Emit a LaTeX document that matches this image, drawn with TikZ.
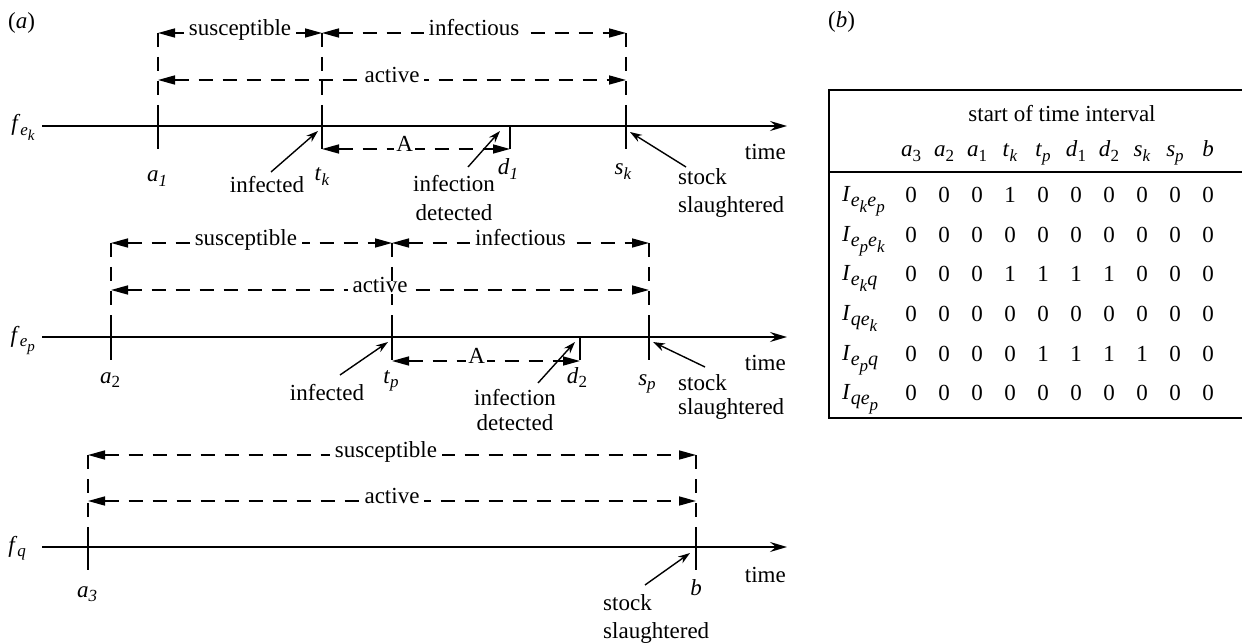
\documentclass[tikz,border=0pt]{standalone}
\usepackage{fontspec}
\setmainfont{Liberation Serif}
\usetikzlibrary{arrows.meta}
\newcommand\fsz{\fontsize{23}{28}\selectfont}
\newcommand\sbA[1]{\raisebox{-4.5pt}{\fontsize{17}{17}\selectfont #1}}
\newcommand\sbB[1]{\raisebox{-5pt}{\fontsize{15}{15}\selectfont #1}}
\newcommand\sbT[1]{\raisebox{-5pt}{\fontsize{20}{20}\selectfont #1}}
\newcommand\sbU[1]{\raisebox{-6pt}{\fontsize{17}{17}\selectfont #1}}
\newcommand\vi[2]{\textit{#1}\sbA{\textit{#2}}}
\newcommand\vu[2]{\textit{#1}\sbA{#2}}
\newcommand\ee[1]{\textit{e}\sbB{\textit{#1}}}
\newcommand\te[1]{\textit{e}\sbU{\textit{#1}}}
\tikzset{
  axisline/.style={line width=1.8pt, -{Stealth[length=17pt,width=10pt,inset=6pt]}},
  tickline/.style={line width=1.8pt},
  vdash/.style={line width=1.6pt, dash pattern=on 14pt off 10pt},
  spanline/.style={line width=1.6pt, dash pattern=on 14pt off 10pt,
     {Triangle[length=17pt,width=9pt]}-{Triangle[length=17pt,width=9pt]}},
  spanlab/.style={fill=white, inner xsep=5pt, inner ysep=0pt, text height=0.68em, text depth=0.22em},
  ptr/.style={line width=1.4pt, -{Stealth[length=12pt,width=8pt]}},
  lab/.style={inner sep=0pt, anchor=base},
  every node/.style={font=\fsz},
  tbl/.style={line width=1.8pt}
}
\begin{document}
\begin{tikzpicture}[x=1pt,y=-1pt]
\useasboundingbox (0,0) rectangle (1242,644);

\node[lab, anchor=base west] (la) at (8,29) {(\textit{a})};
\node[lab, anchor=base west] (lb) at (828,28) {(\textit{b})};

% ---------------- timeline 1 ----------------
\coordinate (o1) at (42,126);  \coordinate (e1) at (787,126);
\coordinate (a1) at (158,126); \coordinate (tk) at (322,126);
\coordinate (d1) at (510,126); \coordinate (sk) at (626,126);
\coordinate (a1t) at (158,33); \coordinate (tkt) at (322,33); \coordinate (skt) at (626,33);
\coordinate (a1m) at (158,80); \coordinate (skm) at (626,80);
\coordinate (tkA) at (322,149); \coordinate (d1A) at (510,149);

\draw[axisline] (o1) -- (e1);
\foreach \c in {a1,tk,sk}{
  \draw[tickline] ([yshift=13pt]\c) -- ([yshift=-23pt]\c);
}
\draw[tickline] (d1) -- ([yshift=-23pt]d1);
\draw[vdash] (a1t) -- ([yshift=13pt]a1);
\draw[vdash] (tkt) -- ([yshift=13pt]tk);
\draw[vdash] (skt) -- ([yshift=13pt]sk);
\draw[spanline] (a1t) -- node[spanlab] (s1) {susceptible} (tkt);
\draw[spanline] (tkt) -- node[spanlab] (i1) {infectious} (skt);
\draw[spanline] (a1m) -- node[spanlab] (ac1) {active} (skm);
\draw[spanline] (tkA) -- node[spanlab, pos=0.44, inner xsep=2pt] (A1) {A} (d1A);

\node[lab, anchor=base east] (f1) at (35,131) {\textit{f}\sbA{\ee{k}}};
\node[lab] (la1) at (157,182) {\vi{a}{1}};
\node[lab] (ltk) at (322,181) {\vi{t}{k}};
\node[lab] (inf1) at (267,193) {infected};
\node[lab] (ld1) at (508,175) {\vi{d}{1}};
\node[lab] (det1a) at (454,192) {infection};
\node[lab] (det1b) at (454,221) {detected};
\node[lab] (lsk) at (623,175) {\vi{s}{k}};
\node[lab, anchor=base west] (st1a) at (678,185) {stock};
\node[lab, anchor=base west] (st1b) at (678,213) {slaughtered};
\node[lab, anchor=base east] (tm1) at (786,160) {time};
\coordinate (p1s) at (271,172); \coordinate (p1e) at (318,131);
\coordinate (p2s) at (468,167); \coordinate (p2e) at (500,131);
\coordinate (p3s) at (686,167); \coordinate (p3e) at (630,132);
\draw[ptr] (p1s) -- (p1e);
\draw[ptr] (p2s) -- (p2e);
\draw[ptr] (p3s) -- (p3e);

% ---------------- timeline 2 ----------------
\coordinate (o2) at (42,337);  \coordinate (e2) at (787,337);
\coordinate (a2) at (111,337); \coordinate (tp) at (392,337);
\coordinate (d2) at (580,337); \coordinate (sp) at (649,337);
\coordinate (a2t) at (111,243); \coordinate (tpt) at (392,243); \coordinate (spt) at (649,243);
\coordinate (a2m) at (111,290); \coordinate (spm) at (649,290);
\coordinate (tpA) at (392,361); \coordinate (d2A) at (580,361);

\draw[axisline] (o2) -- (e2);
\foreach \c in {a2,tp,sp}{
  \draw[tickline] ([yshift=13pt]\c) -- ([yshift=-23pt]\c);
}
\draw[tickline] (d2) -- ([yshift=-23pt]d2);
\draw[vdash] (a2t) -- ([yshift=13pt]a2);
\draw[vdash] (tpt) -- ([yshift=13pt]tp);
\draw[vdash] (spt) -- ([yshift=13pt]sp);
\draw[spanline] (a2t) -- node[spanlab, pos=0.48] (s2) {susceptible} (tpt);
\draw[spanline] (tpt) -- node[spanlab] (i2) {infectious} (spt);
\draw[spanline] (a2m) -- node[spanlab] (ac2) {active} (spm);
\draw[spanline] (tpA) -- node[spanlab, pos=0.45, inner xsep=2pt] (A2) {A} (d2A);

\node[lab, anchor=base east] (f2) at (35,342) {\textit{f}\sbA{\ee{p}}};
\node[lab] (la2) at (110,383) {\vu{a}{2}};
\node[lab] (ltp) at (391,383) {\vi{t}{p}};
\node[lab] (inf2) at (327,400) {infected};
\node[lab] (ld2) at (577,383) {\vu{d}{2}};
\node[lab] (det2a) at (515,405) {infection};
\node[lab] (det2b) at (515,430) {detected};
\node[lab] (lsp) at (647,385) {\vi{s}{p}};
\node[lab, anchor=base west] (st2a) at (678,390) {stock};
\node[lab, anchor=base west] (st2b) at (678,414) {slaughtered};
\node[lab, anchor=base east] (tm2) at (786,370) {time};
\coordinate (q1s) at (340,375); \coordinate (q1e) at (388,342);
\coordinate (q2s) at (538,383); \coordinate (q2e) at (575,342);
\coordinate (q3s) at (705,367); \coordinate (q3e) at (653,342);
\draw[ptr] (q1s) -- (q1e);
\draw[ptr] (q2s) -- (q2e);
\draw[ptr] (q3s) -- (q3e);

% ---------------- timeline 3 ----------------
\coordinate (o3) at (42,547);  \coordinate (e3) at (787,547);
\coordinate (a3) at (88,547); \coordinate (bb) at (696,547);
\coordinate (a3t) at (88,455); \coordinate (bbt) at (696,455);
\coordinate (a3m) at (88,501); \coordinate (bbm) at (696,501);

\draw[axisline] (o3) -- (e3);
\foreach \c in {a3,bb}{
  \draw[tickline] ([yshift=12pt]\c) -- ([yshift=-23pt]\c);
}
\draw[vdash] (a3t) -- ([yshift=12pt]a3);
\draw[vdash] (bbt) -- ([yshift=12pt]bb);
\draw[spanline] (a3t) -- node[spanlab, pos=0.49] (s3) {susceptible} (bbt);
\draw[spanline] (a3m) -- node[spanlab] (ac3) {active} (bbm);

\node[lab, anchor=base east] (f3) at (26,552) {\vi{f}{q}};
\node[lab] (la3) at (87,597) {\vi{a}{3}};
\node[lab] (lb3) at (696,595) {\textit{b}};
\node[lab, anchor=base east] (tm3) at (786,582) {time};
\node[lab, anchor=base west] (st3a) at (603,610) {stock};
\node[lab, anchor=base west] (st3b) at (603,638) {slaughtered};
\coordinate (r1s) at (645,585); \coordinate (r1e) at (690,553);
\draw[ptr] (r1s) -- (r1e);

% ---------------- table (b) ----------------
\coordinate (tTR) at (1242,90); \coordinate (tBL) at (829,418);
\coordinate (tBR) at (1242,418);
\coordinate (mL) at (829,172); \coordinate (mR) at (1242,172);
\draw[tbl] (tTR) -| (tBL) -- (tBR);
\draw[tbl] (mL) -- (mR);

\node[lab] (hdr) at (1062,122) {start of time interval};
\foreach \h [count=\i from 0] in {\vu{a}{3},\vu{a}{2},\vu{a}{1},\vi{t}{k},\vi{t}{p},\vu{d}{1},\vu{d}{2},\vi{s}{k},\vi{s}{p},\textit{b}}{
  \node[lab] (h\i) at (911+33*\i,157) {\h};
}
\foreach \lbl [count=\r from 0] in {
  {\textit{I}\sbT{\te{k}\te{p}}},
  {\textit{I}\sbT{\te{p}\te{k}}},
  {\textit{I}\sbT{\te{k}\textit{q}}},
  {\textit{I}\sbT{\textit{q}\te{k}}},
  {\textit{I}\sbT{\te{p}\textit{q}}},
  {\textit{I}\sbT{\textit{q}\te{p}}}}{
  \node[lab, anchor=base west] (rl\r) at (842,202+39.5*\r) {\lbl};
}
\foreach \row [count=\r from 0] in {
  {0,0,0,1,0,0,0,0,0,0},
  {0,0,0,0,0,0,0,0,0,0},
  {0,0,0,1,1,1,1,0,0,0},
  {0,0,0,0,0,0,0,0,0,0},
  {0,0,0,0,1,1,1,1,0,0},
  {0,0,0,0,0,0,0,0,0,0}}{
  \foreach \v [count=\c from 0] in \row {
    \node[lab] (v\r-\c) at (911+33*\c,203+39.5*\r) {\v};
  }
}
\end{tikzpicture}
\end{document}
